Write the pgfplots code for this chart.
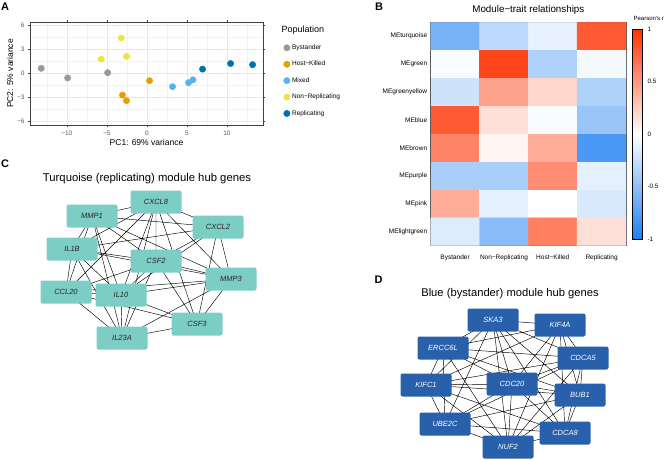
\documentclass[border=0pt]{standalone}
\usepackage{fontspec}
\setmainfont{Liberation Sans}
\usepackage{pgfplots}
\pgfplotsset{compat=1.18}
\usepgfplotslibrary{colormaps}
\pgfplotsset{/pgf/number format/assume math mode=true}

\definecolor{cByst}{HTML}{999999}
\definecolor{cHost}{HTML}{E69F00}
\definecolor{cMix}{HTML}{56B4E9}
\definecolor{cNonR}{HTML}{F0E442}
\definecolor{cRep}{HTML}{0072B2}
\definecolor{tealnode}{HTML}{7CCEC4}
\definecolor{bluenode}{HTML}{2860AC}

\pgfplotsset{colormap={pearson}{rgb255=(28,127,242) rgb255=(255,255,255) rgb255=(255,48,0)}}

\newcommand{\fs}[1]{\fontsize{#1}{#1}\selectfont}

% heatmap: column, row, Pearson's r
\pgfplotstableread{
x y r
0 0 -0.60
1 0 -0.30
2 0 -0.10
3 0 0.80
0 1 -0.03
1 1 0.90
2 1 -0.35
3 1 -0.05
0 2 -0.22
1 2 0.45
2 2 0.20
3 2 -0.35
0 3 0.80
1 3 0.15
2 3 -0.03
3 3 -0.45
0 4 0.60
1 4 0.05
2 4 0.40
3 4 -0.80
0 5 -0.38
1 5 -0.38
2 5 0.55
3 5 -0.12
0 6 0.40
1 6 -0.12
2 6 0.00
3 6 -0.17
0 7 -0.15
1 7 -0.52
2 7 0.62
3 7 0.15
}\heat

\begin{document}
\begin{tikzpicture}
\useasboundingbox (0pt,0pt) rectangle (669pt,459pt);

% ---------------- A: PCA ----------------
\begin{axis}[
    at={(30pt,334pt)}, anchor=south west,
    scale only axis, width=233pt, height=103pt,
    xmin=-14.6, xmax=14.5, ymin=-6.5, ymax=6.4,
    xtick={-10,-5,0,5,10}, xticklabels={−10,−5,0,5,10},
    ytick={-6,-3,0,3,6}, yticklabels={−6,−3,0,3,6},
    minor xtick={-12.5,-7.5,-2.5,2.5,7.5,12.5},
    minor ytick={-4.5,-1.5,1.5,4.5},
    grid=both,
    major grid style={black!9, line width=0.5pt},
    minor grid style={black!5, line width=0.3pt},
    axis line style={black!75, line width=0.6pt},
    tick align=outside, major tick length=2pt, minor tick length=0pt,
    tick style={black!75, line width=0.5pt},
    tick label style={font=\fs{6.5}, text=black!65},
    xlabel={PC1: 69\% variance}, ylabel={PC2: 5\% variance},
    label style={font=\fs{8.5}},
    xlabel style={yshift=3pt}, ylabel style={yshift=-3pt},
    legend style={at={(1.075,0.82)}, anchor=north west, draw=none, fill=none,
        font=\fs{6.5}, row sep=6.2pt,
        /tikz/every even column/.append style={column sep=5pt}},
    legend cell align=left,
    mark size=3.2pt,
]
\addplot[only marks, mark=*, color=cByst] coordinates {(-13.2,0.6) (-9.9,-0.6) (-4.9,0.05)};
\addlegendentry{Bystander}
\addplot[only marks, mark=*, color=cHost] coordinates {(-3.05,-2.75) (-2.55,-3.45) (0.33,-0.95)};
\addlegendentry{Host−Killed}
\addplot[only marks, mark=*, color=cMix] coordinates {(3.2,-1.7) (5.2,-1.2) (5.75,-0.85)};
\addlegendentry{Mixed}
\addplot[only marks, mark=*, color=cNonR] coordinates {(-5.7,1.75) (-3.2,4.4) (-2.55,2.1)};
\addlegendentry{Non−Replicating}
\addplot[only marks, mark=*, color=cRep] coordinates {(6.95,0.5) (10.45,1.2) (13.2,1.05)};
\addlegendentry{Replicating}
\end{axis}

% ---------------- B: heatmap ----------------
\begin{axis}[
    at={(430.7pt,213.3pt)}, anchor=south west,
    scale only axis, width=195.3pt, height=223.4pt,
    xmin=-0.5, xmax=3.5, ymin=-0.5, ymax=7.5, y dir=reverse,
    enlargelimits=false,
    xtick={0,1,2,3}, xticklabels={Bystander,Non−Replicating,Host−Killed,Replicating},
    ytick={0,...,7},
    yticklabels={MEturquoise,MEgreen,MEgreenyellow,MEblue,MEbrown,MEpurple,MEpink,MElightgreen},
    tick style={draw=none},
    tick label style={font=\fs{6.5}},
    xticklabel style={yshift=-6pt},
    axis line style={black!65, line width=0.7pt},
    title={Module−trait relationships}, title style={font=\fs{9.8}, yshift=-2pt},
    colormap name=pearson, point meta min=-1, point meta max=1,
    colorbar,
    colorbar style={
        at={(1.031,0.5)}, anchor=west,
        scale only axis, width=10pt, height=210pt,
        ytick={-1,-0.5,0,0.5,1}, yticklabels={-1,-0.5,0,0.5,1},
        yticklabel pos=right,
        tick align=outside, major tick length=3pt,
        ytick style={black, line width=0.5pt},
        axis line style={black, line width=0.6pt},
        tick label style={font=\fs{6.3}},
        yticklabel style={xshift=-1pt},
        title={Pearson's r},
        title style={font=\fs{6}, at={(0,1)}, anchor=south west, xshift=-2pt, yshift=-1pt},
    },
]
\addplot[matrix plot*, mesh/cols=4, point meta=explicit, draw=none] table[x=x, y=y, meta=r] {\heat};
\end{axis}

% ---------------- C and D: networks (pixel frame) ----------------
\begin{axis}[
    at={(0pt,0pt)}, anchor=south west,
    scale only axis, width=669pt, height=459pt,
    xmin=0, xmax=669, ymin=0, ymax=459, y dir=reverse,
    hide axis, clip=false,
]
% C edges
\addplot[black, line width=0.45pt, unbounded coords=jump] coordinates {
(156,202) (92,216) (nan,nan) (156,202) (218,227) (nan,nan) (156,202) (72,249) (nan,nan)
(156,202) (156,261) (nan,nan) (156,202) (231,279) (nan,nan) (156,202) (66,292) (nan,nan)
(156,202) (121,295) (nan,nan) (156,202) (197,324) (nan,nan) (156,202) (122,338) (nan,nan)
(92,216) (218,227) (nan,nan) (92,216) (72,249) (nan,nan) (92,216) (156,261) (nan,nan)
(92,216) (231,279) (nan,nan) (92,216) (66,292) (nan,nan) (92,216) (121,295) (nan,nan)
(92,216) (122,338) (nan,nan)
(218,227) (72,249) (nan,nan) (218,227) (156,261) (nan,nan) (218,227) (231,279) (nan,nan)
(218,227) (121,295) (nan,nan) (218,227) (197,324) (nan,nan)
(72,249) (156,261) (nan,nan) (72,249) (231,279) (nan,nan) (72,249) (66,292) (nan,nan)
(72,249) (121,295) (nan,nan) (72,249) (122,338) (nan,nan)
(156,261) (231,279) (nan,nan) (156,261) (66,292) (nan,nan) (156,261) (121,295) (nan,nan)
(156,261) (197,324) (nan,nan) (156,261) (122,338) (nan,nan)
(231,279) (66,292) (nan,nan) (231,279) (121,295) (nan,nan) (231,279) (197,324) (nan,nan)
(231,279) (122,338) (nan,nan)
(66,292) (121,295) (nan,nan) (66,292) (197,324) (nan,nan) (66,292) (122,338) (nan,nan)
(121,295) (197,324) (nan,nan) (121,295) (122,338) (nan,nan)
(197,324) (122,338)
};
% C nodes
\addplot[only marks, mark=none, nodes near coords, nodes near coords align=center,
    point meta=explicit symbolic,
    nodes near coords style={rectangle, rounded corners=2pt, fill=tealnode,
        minimum width=51pt, minimum height=23pt, inner sep=0pt,
        font=\fs{7.5}\itshape, text=black!85}]
table[meta=g] {
x y g
156 202 CXCL8
92 216 MMP1
218 227 CXCL2
72 249 IL1B
156 261 CSF2
231 279 MMP3
66 292 CCL20
121 295 IL10
197 324 CSF3
122 338 IL23A
};
% D edges
\addplot[black, line width=0.45pt, unbounded coords=jump] coordinates {
(493,320) (560,325) (nan,nan) (493,320) (443,348) (nan,nan) (493,320) (583,358) (nan,nan)
(493,320) (426,385) (nan,nan) (493,320) (512,384) (nan,nan) (493,320) (580,395) (nan,nan)
(493,320) (445,424) (nan,nan) (493,320) (565,433) (nan,nan) (493,320) (508,447) (nan,nan)
(560,325) (443,348) (nan,nan) (560,325) (583,358) (nan,nan) (560,325) (426,385) (nan,nan)
(560,325) (512,384) (nan,nan) (560,325) (580,395) (nan,nan) (560,325) (565,433) (nan,nan)
(560,325) (508,447) (nan,nan)
(443,348) (583,358) (nan,nan) (443,348) (426,385) (nan,nan) (443,348) (512,384) (nan,nan)
(443,348) (580,395) (nan,nan) (443,348) (445,424) (nan,nan) (443,348) (508,447) (nan,nan)
(583,358) (426,385) (nan,nan) (583,358) (512,384) (nan,nan) (583,358) (580,395) (nan,nan)
(583,358) (445,424) (nan,nan) (583,358) (565,433) (nan,nan) (583,358) (508,447) (nan,nan)
(426,385) (512,384) (nan,nan) (426,385) (580,395) (nan,nan) (426,385) (445,424) (nan,nan)
(426,385) (565,433) (nan,nan) (426,385) (508,447) (nan,nan)
(512,384) (580,395) (nan,nan) (512,384) (445,424) (nan,nan) (512,384) (565,433) (nan,nan)
(512,384) (508,447) (nan,nan)
(580,395) (445,424) (nan,nan) (580,395) (565,433) (nan,nan) (580,395) (508,447) (nan,nan)
(445,424) (565,433) (nan,nan) (445,424) (508,447) (nan,nan)
(565,433) (508,447)
};
% D nodes
\addplot[only marks, mark=none, nodes near coords, nodes near coords align=center,
    point meta=explicit symbolic,
    nodes near coords style={rectangle, rounded corners=2pt, fill=bluenode,
        minimum width=51pt, minimum height=23pt, inner sep=0pt,
        font=\fs{7.5}\itshape, text=white}]
table[meta=g] {
x y g
493 320 SKA3
560 325 KIF4A
443 348 ERCC6L
583 358 CDCA5
426 385 KIFC1
512 384 CDC20
580 395 BUB1
445 424 UBE2C
565 433 CDCA8
508 447 NUF2
};
\end{axis}

% titles and panel letters
\node[anchor=west, font=\fs{9}] at (278pt,429pt) {Population};
\node[font=\fs{11.3}] at (147pt,280pt) {Turquoise (replicating) module hub genes};
\node[font=\fs{11.2}] at (510pt,165pt) {Blue (bystander) module hub genes};
\node[font=\bfseries\fs{11}] at (5pt,452pt) {A};
\node[font=\bfseries\fs{11}] at (379pt,452pt) {B};
\node[font=\bfseries\fs{11}] at (5pt,295pt) {C};
\node[font=\bfseries\fs{11}] at (378.5pt,179pt) {D};
\end{tikzpicture}
\end{document}
